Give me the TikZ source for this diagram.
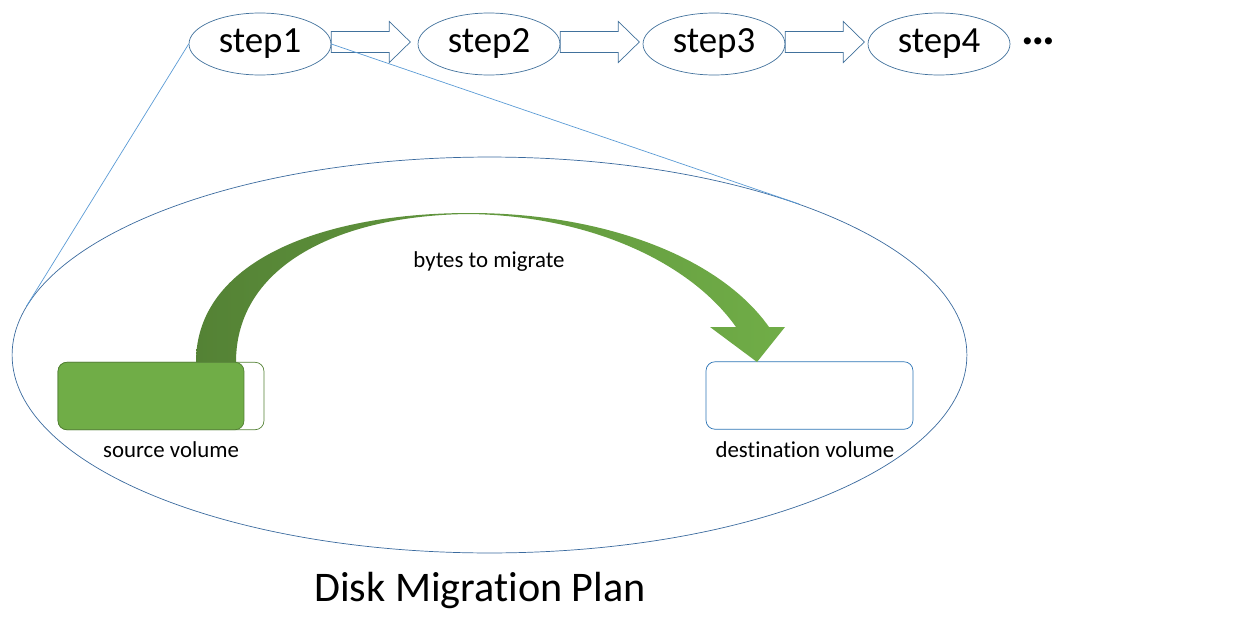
\documentclass[tikz,border=0pt]{standalone}
\usepackage{fontspec}
\setmainfont[RawFeature=-liga]{Carlito}
\usepackage{tikz}
\usetikzlibrary{positioning, shapes.geometric, calc}
\definecolor{stepblue}{HTML}{41719C}
\definecolor{planblue}{HTML}{3A6A9E}
\definecolor{linkblue}{HTML}{5B9BD5}
\definecolor{dstblue}{HTML}{2E75B6}
\definecolor{srcgreen}{HTML}{70AD47}
\definecolor{srcdark}{HTML}{507E32}
\definecolor{flowdark}{HTML}{548235}
\tikzset{
  stepnode/.style={draw=stepblue, ellipse, fill=white, inner sep=0pt, minimum width=2.84cm, minimum height=1.24cm, font=\fontsize{21}{25}\selectfont},
  planarea/.style={draw=planblue, ellipse, inner sep=0pt, minimum width=19.1cm, minimum height=7.92cm},
  jump/.style={draw=stepblue, fill=white, line join=miter},
  vol/.style={rectangle, rounded corners=0.18cm, inner sep=0pt, minimum height=1.35cm},
  lbl/.style={font=\fontsize{13}{16}\selectfont}
}
% hollow block arrow between two steps
\newcommand{\stepjump}[1]{%
  \draw[jump] ($(#1.east)+(0,-12.5)$) -- ++(58,0) -- ++(0,-10) -- ++(21,20.5)
    -- ++(-21,20.5) -- ++(0,-10) -- ++(-58,0) -- cycle;}

\begin{document}
\begin{tikzpicture}[x=0.02cm, y=-0.02cm]
  \useasboundingbox (0,0) rectangle (1237,622);

  % steps
  \node[stepnode] (s1) at (260,44) {step1};
  \node[stepnode] (s2) at (489,44) {step2};
  \node[stepnode] (s3) at (714,44) {step3};
  \node[stepnode] (s4) at (939,44) {step4};
  \node[font=\fontsize{27}{30}\selectfont\bfseries] (more) at (1038,44) {\raisebox{0.13em}{…}};

  \stepjump{s1}
  \stepjump{s2}
  \stepjump{s3}

  % zoom into step1
  \node[planarea] (plan) at (489.5,355) {};
  \draw[linkblue, thin] (s1.west) -- (plan.174);
  \draw[linkblue, thin] (s1.east) -- (plan.26);

  % volumes
  \node[vol, draw=flowdark, fill=white, minimum width=4.12cm] (src) at (161,396) {};
  \node[vol, draw=srcdark, fill=srcgreen, minimum width=3.72cm] (srcfill) at (151,396) {};
  \node[vol, draw=dstblue, fill=white, minimum width=4.14cm] (dst) at (809.5,395.5) {};
  \node[lbl] (srclbl) at (171,450) {source volume};
  \node[lbl] (dstlbl) at (805,450) {destination volume};

  % moving bytes
  \shade[left color=flowdark, right color=srcgreen]
    (196,362) .. controls (196,262) and (320,213) .. (470,213)
    .. controls (600,213) and (718,255) .. (769,327)
    -- (785,327) -- (757,362) -- (710,327) -- (736,327)
    .. controls (690,262) and (590,216) .. (470,214)
    .. controls (340,215) and (236,265) .. (236,362) -- cycle;
  \node[lbl] (bytes) at (489,262) {bytes to migrate};

  \node[font=\fontsize{24}{29}\selectfont] (title) at (480,590) {Disk Migration Plan};
\end{tikzpicture}
\end{document}
